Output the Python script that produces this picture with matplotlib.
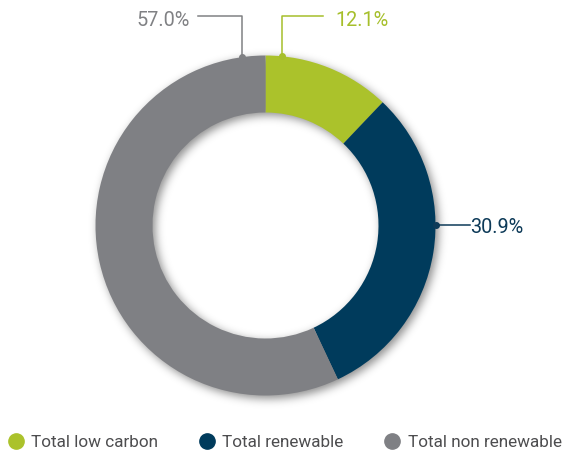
import math
import numpy as np
import matplotlib.pyplot as plt
from matplotlib.lines import Line2D

# energy mix shares (%)
categories = ["Total low carbon", "Total renewable", "Total non renewable"]
shares = [12.1, 30.9, 57.0]
colors = ["#abc22b", "#003b5c", "#7f8084"]
label_colors = ["#a6bf2b", "#0d3a58", "#808184"]

W, H = 563, 454
R_OUT, R_IN = 170, 113
CX, CY = 265.5, 225.5   # donut centre in pixels from top-left

fig = plt.figure(figsize=(W / 100, H / 100), dpi=100)
ax = fig.add_axes([0, 0, 1, 1])

# soft drop shadow behind the ring
xs = np.arange(W) - CX + 0.5
ys = CY - (np.arange(H) + 0.5)
gx, gy = np.meshgrid(xs, ys)
d = np.hypot(gx - 3, gy + 3)
sd = np.maximum(d - R_OUT, R_IN - d)
erfc = np.frompyfunc(math.erfc, 1, 1)
alpha = 0.45 * 0.5 * erfc(sd / (math.sqrt(2) * 4.5)).astype(float)
shadow = np.zeros((H, W, 4))
shadow[..., 3] = alpha
ax.imshow(shadow, extent=(-CX, W - CX, CY - H, CY), origin="upper", zorder=0)

ax.pie(shares, colors=colors, startangle=90, counterclock=False,
       radius=R_OUT, center=(0, 0),
       wedgeprops=dict(width=R_OUT - R_IN, edgecolor="none", zorder=2))

ax.set_xlim(-CX, W - CX)
ax.set_ylim(CY - H, CY)
ax.set_aspect("equal")
ax.axis("off")


def edge_point(angle_deg):
    # angle measured clockwise from 12 o'clock
    a = math.radians(angle_deg)
    return R_OUT * math.sin(a), R_OUT * math.cos(a)


line_y = CY - 16.5
base_y = CY - 26
lab = dict(fontsize=14.3, family="Roboto", va="baseline")

# low carbon: up then right
px, py = edge_point(5.5)
ax.plot([px, px, 57.5], [py, line_y, line_y], color=label_colors[0], lw=1.1, zorder=3)
ax.plot(px, py, "o", color=label_colors[0], ms=4, zorder=3)
ax.text(69.5, base_y, f"{shares[0]:.1f}%", color=label_colors[0], ha="left", **lab)

# renewable: straight out to the right
px, py = edge_point(90)
ax.plot([px, 204.5], [py, py], color=label_colors[1], lw=1.1, zorder=3)
ax.plot(px, py, "o", color=label_colors[1], ms=4, zorder=3)
ax.text(205, py - 8, f"{shares[1]:.1f}%", color=label_colors[1], ha="left", **lab)

# non renewable: up then left
px, py = edge_point(-7.8)
ax.plot([px, px, -67.5], [py, line_y, line_y], color=label_colors[2], lw=1.1, zorder=3)
ax.plot(px, py, "o", color=label_colors[2], ms=4, zorder=3)
ax.text(-75.5, base_y, f"{shares[2]:.1f}%", color=label_colors[2], ha="right", **lab)

handles = [Line2D([], [], marker="o", linestyle="none", markersize=11,
                  color=c) for c in colors]
fig.legend(handles, categories, loc="center left", bbox_to_anchor=(4 / W, 11.5 / H),
           ncol=3, frameon=False, handlelength=0.8, handletextpad=0.5,
           columnspacing=2.45, borderaxespad=0, borderpad=0.3,
           prop=dict(family="Roboto", size=12.3), labelcolor="#4d4d4f")

fig.savefig("out.png", dpi=100)
